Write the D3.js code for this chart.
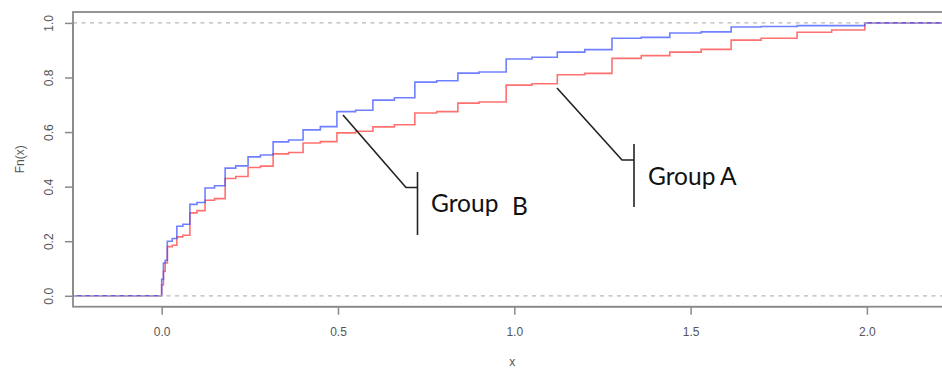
<!DOCTYPE html>
<html>
<head>
<meta charset="utf-8">
<script src="https://cdn.jsdelivr.net/npm/d3@7"></script>
<style>
html,body{margin:0;padding:0;background:#fff;}
svg{display:block;}
</style>
</head>
<body>
<svg id="chart" width="942" height="369"></svg>
<script>
// ---- data ----
const jumpX = [0, 0.005, 0.010, 0.016, 0.03, 0.043, 0.06, 0.080, 0.10, 0.123, 0.15, 0.180, 0.21,
  0.245, 0.28, 0.316, 0.36, 0.401, 0.45, 0.497, 0.55, 0.599, 0.66, 0.718, 0.78, 0.840, 0.90,
  0.977, 1.05, 1.122, 1.20, 1.277, 1.36, 1.441, 1.53, 1.615, 1.70, 1.802, 1.90, 1.994];
const groupB = [0.06, 0.12, 0.13, 0.20, 0.21, 0.255, 0.262, 0.335, 0.342, 0.395, 0.403, 0.468, 0.476,
  0.509, 0.516, 0.564, 0.571, 0.608, 0.62, 0.675, 0.68, 0.717, 0.726, 0.783, 0.788, 0.816, 0.82,
  0.868, 0.874, 0.893, 0.902, 0.944, 0.947, 0.963, 0.967, 0.985, 0.987, 0.99, 0.99, 1.0];
const groupA = [0.04, 0.09, 0.12, 0.18, 0.185, 0.216, 0.222, 0.304, 0.312, 0.35, 0.356, 0.43, 0.437,
  0.47, 0.475, 0.52, 0.525, 0.56, 0.565, 0.597, 0.603, 0.619, 0.627, 0.67, 0.675, 0.706, 0.71,
  0.772, 0.777, 0.81, 0.815, 0.87, 0.88, 0.893, 0.903, 0.937, 0.944, 0.966, 0.974, 1.0];
const xTicks = [0, 0.5, 1.0, 1.5, 2.0];
const yTicks = [0, 0.2, 0.4, 0.6, 0.8, 1.0];
const labels = {x: "x", y: "Fn(x)", a: "Group", aLetter: "A", b: "Group", bLetter: "B"};

// ---- layout ----
const svg = d3.select("#chart");
const pLeft = 73, pRight = 955, pTop = 12, pBottom = 306.7;
const x = d3.scaleLinear().domain([-0.2515, 2.213]).range([pLeft, 942]);
const xMax = x.invert(pRight);
const y = d3.scaleLinear().domain([-0.04, 1.04]).range([pBottom, pTop]);

const axisCol = "#8a8a8a", textCol = "#555";
const axFont = "'Liberation Sans', Arial, sans-serif";

// curves
function pts(vals){
  const p = [[x.invert(pLeft), 0]];
  jumpX.forEach((jx, i) => p.push([jx, vals[i]]));
  p.push([xMax, 1]);
  return p;
}
const line = d3.line().x(d => x(d[0])).y(d => y(d[1])).curve(d3.curveStepAfter);
const g = svg.append("g");
g.append("path").datum(pts(groupA)).attr("d", line)
  .attr("fill", "none").attr("stroke", "#ff4d4d").attr("stroke-opacity", 0.8).attr("stroke-width", 1.6);
g.append("path").datum(pts(groupB)).attr("d", line)
  .attr("fill", "none").attr("stroke", "#3f55ff").attr("stroke-opacity", 0.75).attr("stroke-width", 1.6);

// dashed reference lines
[0, 1].forEach(v => {
  svg.append("line").attr("x1", pLeft).attr("x2", pRight).attr("y1", y(v)).attr("y2", y(v))
    .attr("stroke", "#b8b8b8").attr("stroke-width", 1.2).attr("stroke-dasharray", "4,4.5");
});

// box
svg.append("rect").attr("x", pLeft).attr("y", pTop).attr("width", pRight - pLeft).attr("height", pBottom - pTop)
  .attr("fill", "none").attr("stroke", axisCol).attr("stroke-width", 1.8);

// axes
const xAxis = svg.append("g").attr("transform", `translate(0,${pBottom})`)
  .call(d3.axisBottom(x).tickValues(xTicks).tickFormat(d3.format(".1f")).tickSize(8).tickPadding(13));
const yAxis = svg.append("g").attr("transform", `translate(${pLeft},0)`)
  .call(d3.axisLeft(y).tickValues(yTicks).tickFormat(d3.format(".1f")).tickSize(8).tickPadding(6));
[xAxis, yAxis].forEach(a => {
  a.select(".domain").attr("stroke", axisCol).attr("stroke-width", 1.5);
  a.selectAll(".tick line").attr("stroke", axisCol).attr("stroke-width", 1.5);
  a.selectAll("text").attr("fill", textCol).attr("font-family", axFont).attr("font-size", 12);
});
xAxis.select(".domain").attr("d", `M${x(0)},0H${x(2)}`);
yAxis.select(".domain").attr("d", `M0,${y(0)}V${y(1)}`);
yAxis.selectAll(".tick text")
  .attr("transform", "rotate(-90)").attr("text-anchor", "middle")
  .attr("x", 0).attr("y", -24).attr("dy", "0.35em");

// axis titles
svg.append("text").attr("x", x(0.994)).attr("y", 366).attr("text-anchor", "middle")
  .attr("fill", textCol).attr("font-family", axFont).attr("font-size", 12)
  .text(labels.x);
svg.append("text").attr("transform", `translate(24,${y(0.5)}) rotate(-90)`).attr("text-anchor", "middle")
  .attr("fill", textCol).attr("font-family", axFont).attr("font-size", 12)
  .text(labels.y);

// annotations
const ann = svg.append("g").attr("stroke", "#222").attr("stroke-width", 1.6).attr("fill", "none");
ann.append("path").attr("d", "M343,115 L406,187.5 L417.5,187.5");
ann.append("line").attr("x1", 417.5).attr("x2", 417.5).attr("y1", 172).attr("y2", 235);
ann.append("path").attr("d", "M557,88 L622,160 L634,160");
ann.append("line").attr("x1", 634).attr("x2", 634).attr("y1", 144).attr("y2", 207);

const annFont = "Lato, 'Open Sans', sans-serif";
const annSize = 24.5;
svg.append("text").attr("x", 431).attr("y", 212).attr("font-family", annFont).attr("font-size", annSize)
  .attr("fill", "#111").text(labels.b);
svg.append("text").attr("x", 512).attr("y", 214.5).attr("font-family", annFont).attr("font-size", annSize)
  .attr("fill", "#111").text(labels.bLetter);
svg.append("text").attr("x", 648).attr("y", 185).attr("font-family", annFont).attr("font-size", annSize)
  .attr("fill", "#111").text(labels.a);
svg.append("text").attr("x", 720).attr("y", 185).attr("font-family", annFont).attr("font-size", annSize)
  .attr("fill", "#111").text(labels.aLetter);
</script>
</body>
</html>
